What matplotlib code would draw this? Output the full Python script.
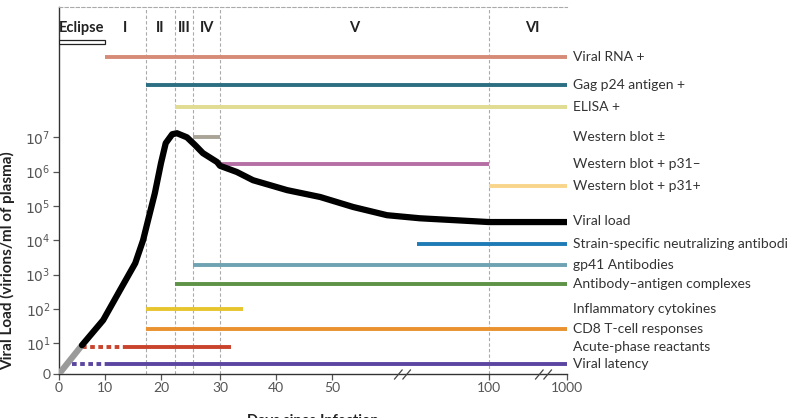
import numpy as np
import matplotlib.pyplot as plt
from matplotlib.path import Path

plt.rcParams['font.family'] = ['Lato', 'DejaVu Sans']

# broken, piecewise x axis (days -> relative position)
day_knots = [0, 10, 20, 30, 40, 50, 100, 1000]
pos_knots = [0, 46, 102, 161, 217, 273, 430, 508]


def fwd(d):
    return np.interp(d, day_knots, pos_knots)


def inv(p):
    return np.interp(p, pos_knots, day_knots)


# phases
phase_edges = [0, 10, 17.3, 22.3, 25.5, 30, 100, 1000]
phase_names = ['Eclipse', 'I', 'II', 'III', 'IV', 'V', 'VI']

# viral load curve (log10 of virions/ml)
load_days = [5.0, 9.6, 12.7, 15.4, 16.8, 17.7, 18.9, 20.0, 20.8, 21.9, 22.7, 24.4, 25.8,
             27.1, 29.5, 30.0, 33.0, 35.9, 42.0, 47.9, 56.7, 67.5, 78, 100, 1000]
load_log = [0.94, 1.67, 2.55, 3.33, 4.0, 4.59, 5.37, 6.25, 6.83, 7.09, 7.12, 7.0, 6.77,
            6.54, 6.28, 6.17, 5.99, 5.75, 5.46, 5.26, 4.97, 4.73, 4.64, 4.53, 4.53]
grey_days = [0, 5.0]
grey_log = [0.1, 0.94]

# markers: label, start, end, level, colour, dotted start
markers = ['Viral RNA +', 'Gag p24 antigen +', 'ELISA +', 'Western blot \u00b1',
           'Western blot + p31\u2013', 'Western blot + p31+', 'Strain-specific neutralizing antibodies',
           'gp41 Antibodies', 'Antibody\u2013antigen complexes', 'Inflammatory cytokines',
           'CD8 T-cell responses', 'Acute-phase reactants', 'Viral latency']
m_start = [10, 17.3, 22.3, 25.5, 30, 100, 77, 25.5, 22.3, 17.3, 17.3, 13.9, 10.2]
m_end = [1000, 1000, 1000, 30, 100, 1000, 1000, 1000, 1000, 34.1, 1000, 32, 1000]
m_level = [9.34, 8.52, 7.88, 7.0, 6.22, 5.58, 3.89, 3.27, 2.72, 1.99, 1.41, 0.88, 0.39]
m_color = ['#d68a78', '#2c6f82', '#e0dc92', '#a9a496', '#b66fa4', '#f8d58a', '#1f7bb6',
           '#6fa2b2', '#5e9246', '#e7c52e', '#e9922f', '#c9432d', '#5b45a0']
m_dot_start = [None] * 11 + [5.0, 2.8]

viral_load_level = 4.56

ytick_pos = [0.1, 1, 2, 3, 4, 5, 6, 7]
ytick_lab = ['0'] + ['$10^{%d}$' % k for k in range(1, 8)]
xticks = [0, 10, 20, 30, 40, 50, 100, 1000]

fig = plt.figure(figsize=(7.87, 4.18), dpi=100)
ax = fig.add_axes([59 / 787, 1 - 374 / 418, 508 / 787, 367 / 418])
ax.set_xscale('function', functions=(fwd, inv))
ax.set_xlim(0, 1000)
ax.set_ylim(0.1, 10.8)

grey = '#aaaaaa'
for e in phase_edges[2:-1]:
    ax.axvline(e, color=grey, lw=0.8, ls=(0, (3, 2)), zorder=1)

for i, name in enumerate(phase_names):
    xc = inv((fwd(phase_edges[i]) + fwd(phase_edges[i + 1])) / 2)
    if name == 'VI':
        xc = inv(fwd(phase_edges[i]) + 43)
    ax.text(xc, 10.2, name, ha='center', va='center', fontsize=10.5, fontweight='bold', color='#222222')

# eclipse box
ax.barh(9.78, phase_edges[1], left=0, height=0.12, color='white', edgecolor='#222222', lw=0.9, zorder=3)

lab_x = 1 + 6 / 508
for i in range(len(markers)):
    ax.plot([m_start[i], m_end[i]], [m_level[i]] * 2, color=m_color[i], lw=2.8,
            solid_capstyle='butt', zorder=2)
    if m_dot_start[i] is not None:
        ax.plot([m_dot_start[i], m_start[i]], [m_level[i]] * 2, color=m_color[i], lw=2.8,
                ls=(0, (1.2, 0.9)), zorder=2)
    ax.text(lab_x, m_level[i], markers[i], transform=ax.get_yaxis_transform(),
            ha='left', va='center', fontsize=10, color='#333333', clip_on=False)

ax.plot(grey_days, grey_log, color='#9a9a9a', lw=4.5, solid_capstyle='butt', zorder=4)
ax.plot(load_days, load_log, color='black', lw=4.5, solid_capstyle='round', solid_joinstyle='round', zorder=5)
ax.text(lab_x, viral_load_level, 'Viral load', transform=ax.get_yaxis_transform(),
        ha='left', va='center', fontsize=10, color='#333333', clip_on=False)

# axis break marks
brk = Path([(-1.0, -0.6), (0.0, 0.6), (0.0, -0.6), (1.0, 0.6)],
           [Path.MOVETO, Path.LINETO, Path.MOVETO, Path.LINETO])
ax.plot([72.3, 723], [0.1, 0.1], ls='none', marker=brk, markersize=12, mew=0.9,
        color='#444444', clip_on=False, zorder=6)

ax.spines['right'].set_visible(False)
ax.spines['top'].set_color(grey)
ax.spines['top'].set_linestyle((0, (3, 2)))
ax.spines['top'].set_linewidth(0.8)
for s in ['left', 'bottom']:
    ax.spines[s].set_color('#333333')
    ax.spines[s].set_linewidth(1.0)

ax.set_xticks(xticks)
ax.set_xticklabels([str(t) for t in xticks])
ax.set_yticks(ytick_pos)
ax.set_yticklabels(ytick_lab)
ax.minorticks_off()
ax.tick_params(axis='both', labelsize=10, colors='#555555', length=4, width=0.9, pad=2)

ax.set_ylabel('Viral Load (virions/ml of plasma)', fontsize=11, fontweight='bold', color='#222222')
ax.yaxis.set_label_coords(-0.086, 0.31)
ax.set_xlabel('Days since Infection', fontsize=10.5, fontweight='bold', color='#222222', labelpad=14)

fig.savefig('out.png', dpi=100)
